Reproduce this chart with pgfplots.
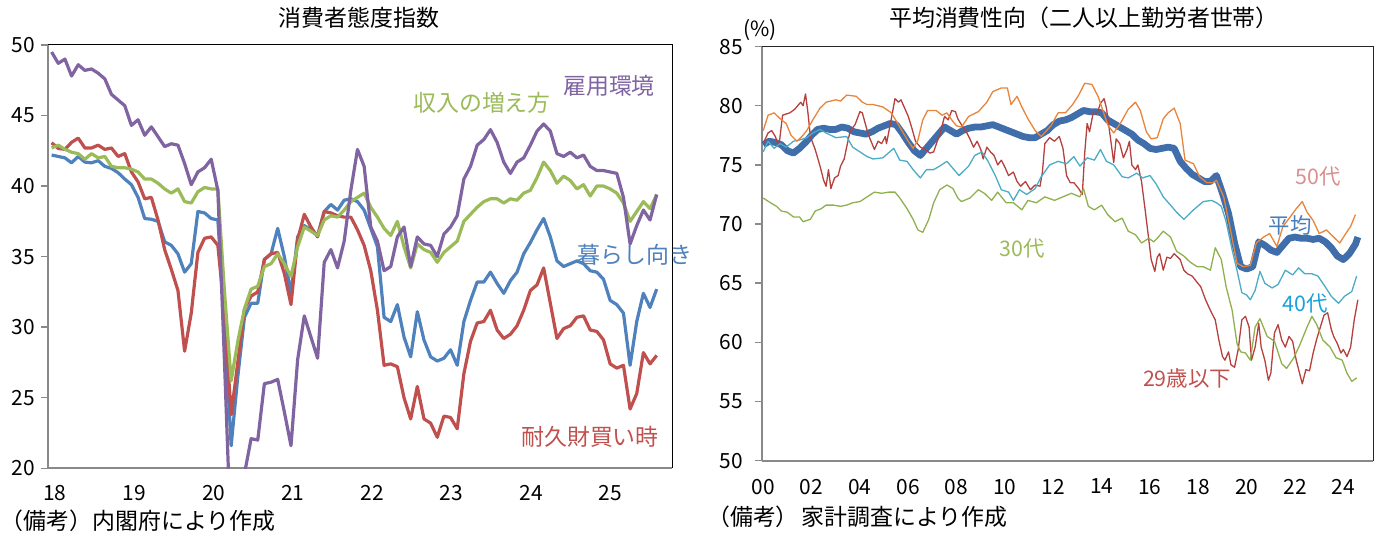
\documentclass[border=0pt]{standalone}
\usepackage{pgfplots}
\pgfplotsset{compat=1.18}
\usepackage{fontspec}
\setmainfont{Noto Sans CJK JP}
\definecolor{axgray}{HTML}{898989}
\definecolor{cBlue}{HTML}{4F81BD}
\definecolor{cRed}{HTML}{C0504D}
\definecolor{cGreen}{HTML}{9BBB59}
\definecolor{cPur}{HTML}{8064A2}
\definecolor{cAvg}{HTML}{3F6EAB}
\definecolor{cAvgL}{HTML}{4A7EBB}
\definecolor{cOr}{HTML}{E8843C}
\definecolor{cOrL}{HTML}{D98F8F}
\definecolor{cTeal}{HTML}{4BACC6}
\definecolor{cTealL}{HTML}{1AA0DC}
\definecolor{cG30}{HTML}{8FB04E}
\definecolor{cR29}{HTML}{B5403D}
\pgfplotstableread{
i blue red green purple
0 42.2 43.07 42.7 49.5
1 42.1 42.67 42.9 48.7
2 42.0 42.6 42.6 49.0
3 41.65 43.1 42.4 47.8
4 42.1 43.4 42.3 48.6
5 41.7 42.7 41.9 48.2
6 41.65 42.7 42.3 48.3
7 41.8 42.9 42.0 48.0
8 41.4 42.6 42.1 47.6
9 41.25 42.7 41.4 46.5
10 40.95 42.1 41.3 46.1
11 40.5 42.3 41.3 45.7
12 40.1 41.0 41.2 44.3
13 39.2 40.3 41.0 44.7
14 37.7 39.1 40.5 43.6
15 37.65 39.2 40.5 44.2
16 37.5 37.6 40.2 43.5
17 36.05 35.5 39.8 42.8
18 35.8 34.1 39.5 43.0
19 35.2 32.6 39.8 42.9
20 33.9 28.3 38.9 41.6
21 34.5 31.0 38.8 40.1
22 38.2 35.3 39.6 41.0
23 38.1 36.3 39.9 41.3
24 37.7 36.4 39.8 41.9
25 37.6 35.8 39.8 39.7
26 30.5 31.0 32.5 27.5
27 21.6 23.8 26.2 14.5
28 26.5 27.5 29.0 16.5
29 30.7 31.3 31.3 19.6
30 31.7 32.2 32.7 22.1
31 31.7 32.5 32.9 22.0
32 34.8 34.8 34.3 26.0
33 35.2 35.2 34.5 26.1
34 37.0 35.3 35.2 26.3
35 35.0 33.8 34.5 24.0
36 32.4 31.6 33.6 21.6
37 36.4 36.2 35.7 27.7
38 37.2 38.0 37.1 30.8
39 36.9 37.1 36.8 29.3
40 36.5 36.4 36.5 27.8
41 38.2 38.2 37.6 34.6
42 38.7 38.1 37.9 35.5
43 38.3 37.9 37.8 34.2
44 39.0 37.8 38.3 36.1
45 39.1 37.8 38.9 39.7
46 38.9 36.9 39.2 42.6
47 38.3 35.8 39.5 41.4
48 37.0 34.0 38.5 37.1
49 35.7 31.2 37.8 36.1
50 30.7 27.3 37.0 34.0
51 30.4 27.4 36.5 34.3
52 31.6 27.2 37.5 36.4
53 29.3 25.0 35.7 37.1
54 27.9 23.5 34.2 34.3
55 31.1 25.8 35.9 36.4
56 29.1 23.5 35.5 35.9
57 27.9 23.2 35.3 35.8
58 27.6 22.2 34.6 35.0
59 27.8 23.7 35.3 36.6
60 28.4 23.6 35.7 37.1
61 27.3 22.8 36.1 37.9
62 30.4 26.7 37.5 40.5
63 31.9 29.0 38.0 41.4
64 33.2 30.3 38.5 42.9
65 33.2 30.4 38.9 43.3
66 33.9 31.2 39.1 44.0
67 33.1 29.8 39.1 43.1
68 32.4 29.2 38.8 41.7
69 33.3 29.5 39.1 40.9
70 33.9 30.1 39.0 41.7
71 35.2 31.2 39.5 42.0
72 36.0 32.6 39.7 42.9
73 36.9 33.0 40.6 43.9
74 37.7 34.2 41.7 44.4
75 36.4 31.7 41.1 43.9
76 34.7 29.2 40.2 42.3
77 34.3 29.9 40.7 42.1
78 34.5 30.1 40.4 42.4
79 34.7 30.7 39.8 42.0
80 34.5 30.8 40.1 42.2
81 34.0 29.8 39.3 41.4
82 33.9 29.7 40.0 41.1
83 33.4 29.1 40.0 41.1
84 31.9 27.4 39.8 41.0
85 31.6 27.1 39.5 40.9
86 31.0 27.3 38.8 39.2
87 27.3 24.2 37.5 35.9
88 30.4 25.3 38.2 37.2
89 32.4 28.2 38.9 38.3
90 31.4 27.4 38.4 37.6
91 32.7 28.0 39.4 39.4
}\ccitable
\begin{document}
\begin{tikzpicture}[x=1bp,y=1bp]
\path[use as bounding box] (0,0) rectangle (1380,538);
\pgfplotsset{
  base/.style={scale only axis, anchor=south west,
    axis x line*=bottom, axis y line*=left,
    axis line style={draw=axgray, line width=2bp},
    major tick length=7bp, tick align=outside,
    ytick style={draw=axgray, line width=1.5bp},
    xtick style={draw=none},
    tick label style={font=\fontsize{21}{21}\selectfont, inner sep=0pt},
    /pgf/number format/assume math mode=true,
    clip mode=individual,
    every axis plot/.append style={line join=round, mark=none},
  }
}
% ---------------- left panel ----------------
\begin{axis}[base, at={(48.3bp,69.7bp)}, width=624bp, height=423.3bp,
  xmin=-0.5, xmax=93.35, ymin=20, ymax=50,
  ytick={20,25,30,35,40,45,50},
  xtick={0.5,12.4,24.4,36.3,48.2,60.1,72.1,84.0},
  xticklabels={18,19,20,21,22,23,24,25},
  yticklabel style={xshift=-6bp},
  xticklabel style={yshift=-10bp},
  ]
\addplot[cBlue, line width=3.2bp] table[x=i, y=blue] {\ccitable};
\addplot[cRed, line width=3.2bp] table[x=i, y=red] {\ccitable};
\addplot[cGreen, line width=3.2bp] table[x=i, y=green] {\ccitable};
\addplot[cPur, line width=3.2bp] table[x=i, y=purple] {\ccitable};
\draw[black, line width=1bp] (rel axis cs:0,1) -- (rel axis cs:1,1) -- (rel axis cs:1,0);
\end{axis}
% ---------------- right panel ----------------
\begin{axis}[base, at={(762bp,77.3bp)}, width=611.3bp, height=414.1bp,
  xmin=-0.05, xmax=25.24, ymin=50, ymax=85,
  ytick={50,55,60,65,70,75,80,85},
  xtick={0,2,4,6,8,10,12,14,16,18,20,22,24},
  xticklabels={00,02,04,06,08,10,12,14,16,18,20,22,24},
  yticklabel style={xshift=-12bp},
  xticklabel style={yshift=-11bp},
  ]
% average
\addplot[cAvg, line width=6.8bp] coordinates {
(0,76.7)(0.25,77.0)(0.5,76.9)(0.75,76.7)(1.0,76.2)(1.25,76.0)(1.5,76.4)(1.75,76.9)(2.0,77.5)(2.25,78.0)(2.5,78.1)(2.75,78.0)(3.0,78.0)(3.25,78.2)(3.5,78.1)(3.75,77.8)(4.0,77.7)(4.25,77.6)(4.5,77.8)(4.75,78.1)(5.0,78.3)(5.25,78.5)(5.5,78.4)(5.75,77.7)(6.0,76.9)(6.25,76.2)(6.5,75.8)(6.75,76.4)(7.0,77.0)(7.25,77.6)(7.5,78.2)(7.75,77.9)(8.0,77.6)(8.25,77.9)(8.5,78.1)(8.75,78.2)(9.0,78.2)(9.25,78.3)(9.5,78.4)(9.75,78.2)(10.0,78.0)(10.25,77.8)(10.5,77.6)(10.75,77.4)(11.0,77.3)(11.25,77.3)(11.5,77.6)(11.75,77.9)(12.0,78.4)(12.25,78.7)(12.5,78.8)(12.75,79.0)(13.0,79.3)(13.25,79.6)(13.5,79.5)(13.75,79.5)(14.0,79.4)(14.25,78.8)(14.5,78.5)(14.75,78.2)(15.0,77.9)(15.25,77.6)(15.5,77.1)(15.75,76.8)(16.0,76.4)(16.25,76.3)(16.5,76.4)(16.75,76.5)(17.0,76.4)(17.25,75.3)(17.5,74.7)(17.75,74.2)(18.0,73.9)(18.25,73.6)(18.5,73.6)(18.75,74.1)(19.0,72.6)(19.25,70.9)(19.5,68.4)(19.75,66.4)(20.0,66.2)(20.25,66.4)(20.5,68.5)(20.75,68.2)(21.0,67.8)(21.25,67.6)(21.5,68.2)(21.75,68.8)(22.0,68.9)(22.25,68.8)(22.5,68.8)(22.75,68.7)(23.0,68.8)(23.25,68.5)(23.5,68.0)(23.75,67.3)(24.0,67.0)(24.25,67.5)(24.5,68.3)(24.6,68.9)};
% 29 and under
\addplot[cR29, line width=1.3bp] coordinates {
(0,76.8)(0.2,77.7)(0.35,77.9)(0.5,77.4)(0.65,76.6)(0.8,79.2)(1.1,79.4)(1.3,79.7)(1.55,80.3)(1.65,80.0)(1.75,81.0)(1.85,79.4)(1.95,77.4)(2.15,76.3)(2.35,74.9)(2.5,73.7)(2.6,73.2)(2.7,74.6)(2.8,73.0)(2.95,73.9)(3.1,74.1)(3.2,74.9)(3.35,75.5)(3.45,76.5)(3.6,77.9)(3.8,78.4)(4.0,79.5)(4.1,79.4)(4.3,77.9)(4.4,77.3)(4.6,76.3)(4.75,77.0)(4.9,76.8)(5.05,77.4)(5.1,76.8)(5.3,78.9)(5.45,80.6)(5.6,80.3)(5.7,80.5)(5.85,79.8)(6.0,79.1)(6.15,78.1)(6.3,77.0)(6.5,76.5)(6.7,76.3)(6.9,76.0)(7.05,76.1)(7.2,77.0)(7.3,77.5)(7.5,79.1)(7.65,78.8)(7.8,79.6)(7.95,79.5)(8.05,78.9)(8.2,78.4)(8.4,77.8)(8.55,77.2)(8.7,76.5)(8.85,77.0)(9.0,76.3)(9.1,75.5)(9.25,76.5)(9.4,76.1)(9.55,75.8)(9.7,75.0)(9.85,75.4)(10.0,74.8)(10.15,74.1)(10.35,74.4)(10.5,73.6)(10.65,73.2)(10.85,73.6)(11.05,72.9)(11.25,73.3)(11.45,73.2)(11.55,74.4)(11.65,76.8)(11.85,77.3)(12.05,77.0)(12.25,77.4)(12.4,76.4)(12.55,74.1)(12.7,73.5)(12.85,73.5)(13.05,73.0)(13.2,72.5)(13.3,76.0)(13.4,78.5)(13.5,77.8)(13.65,79.4)(13.8,79.3)(13.95,80.2)(14.1,80.6)(14.2,79.8)(14.35,77.5)(14.5,75.2)(14.6,77.2)(14.75,76.8)(14.9,75.6)(15.05,76.3)(15.15,77.0)(15.25,75.0)(15.4,74.6)(15.5,75.0)(15.65,73.6)(15.8,71.2)(15.95,68.7)(16.05,67.0)(16.2,66.0)(16.3,67.2)(16.4,67.5)(16.55,66.1)(16.7,67.2)(16.85,67.1)(17.0,67.5)(17.25,67.0)(17.4,66.1)(17.55,65.8)(17.75,65.6)(17.9,65.2)(18.1,64.7)(18.3,63.6)(18.5,62.7)(18.7,61.9)(18.85,60.2)(19.0,58.8)(19.1,58.5)(19.25,59.2)(19.35,58.1)(19.5,57.9)(19.65,59.4)(19.8,61.9)(19.95,62.2)(20.1,61.3)(20.2,58.5)(20.35,59.6)(20.5,61.6)(20.6,59.6)(20.75,58.5)(20.9,56.8)(21.0,57.4)(21.15,60.8)(21.3,61.5)(21.45,60.2)(21.6,59.6)(21.75,60.5)(21.9,60.1)(22.05,58.5)(22.15,57.7)(22.3,56.5)(22.45,57.7)(22.6,57.6)(22.75,59.1)(22.9,60.3)(23.05,61.3)(23.2,62.3)(23.35,62.5)(23.5,61.1)(23.6,60.5)(23.75,59.9)(23.9,59.1)(24.0,59.4)(24.15,58.8)(24.3,59.6)(24.45,61.9)(24.6,63.6)};
% 30s
\addplot[cG30, line width=1.3bp] coordinates {
(0,72.2)(0.3,71.8)(0.55,71.5)(0.75,71.1)(1.0,71.0)(1.25,70.6)(1.5,70.6)(1.65,70.2)(1.95,70.4)(2.15,71.1)(2.4,71.3)(2.6,71.6)(2.9,71.6)(3.2,71.5)(3.45,71.6)(3.7,71.8)(4.0,71.9)(4.3,72.3)(4.6,72.7)(4.9,72.6)(5.2,72.7)(5.45,72.7)(5.65,72.2)(5.95,71.3)(6.2,70.4)(6.4,69.5)(6.6,69.3)(6.85,70.4)(7.05,71.8)(7.3,72.9)(7.6,73.3)(7.85,73.0)(8.05,72.2)(8.2,71.9)(8.55,72.2)(8.9,72.9)(9.15,72.6)(9.45,72.0)(9.7,72.7)(10.05,71.8)(10.35,71.8)(10.7,71.2)(10.95,72.0)(11.3,71.8)(11.65,72.3)(12.05,72.0)(12.4,72.3)(12.75,72.6)(13.1,72.3)(13.25,73.0)(13.45,71.5)(13.7,71.2)(14.0,71.6)(14.25,70.8)(14.55,70.2)(14.85,70.5)(15.1,69.4)(15.4,69.1)(15.65,68.4)(15.95,68.8)(16.15,68.5)(16.3,68.8)(16.55,69.4)(16.85,68.9)(17.1,67.7)(17.4,67.3)(17.65,66.8)(17.95,66.4)(18.2,66.4)(18.5,66.1)(18.7,68.0)(18.95,67.0)(19.15,64.7)(19.4,62.7)(19.6,59.9)(19.75,59.2)(19.95,59.1)(20.15,58.5)(20.35,61.3)(20.55,62.0)(20.85,60.5)(21.15,60.1)(21.45,58.2)(21.65,57.8)(21.95,58.7)(22.2,59.8)(22.5,61.3)(22.7,62.2)(22.9,61.5)(23.15,60.2)(23.45,59.6)(23.7,58.7)(23.95,58.5)(24.15,57.4)(24.35,56.7)(24.55,57.0)};
% 40s
\addplot[cTeal, line width=1.3bp] coordinates {
(0,76.1)(0.2,77.0)(0.45,76.4)(0.7,76.8)(0.95,76.5)(1.25,77.0)(1.5,77.1)(1.8,77.3)(2.05,77.7)(2.35,78.0)(2.6,77.7)(3.0,77.3)(3.45,77.4)(3.7,76.5)(4.0,76.1)(4.3,75.7)(4.55,75.5)(4.95,75.6)(5.4,76.4)(5.65,75.4)(5.95,75.3)(6.2,74.6)(6.5,73.9)(6.75,74.6)(7.05,74.6)(7.3,74.9)(7.6,75.3)(7.85,74.7)(8.1,74.1)(8.5,74.9)(8.75,75.8)(9.05,76.1)(9.3,75.3)(9.6,74.1)(9.85,72.9)(10.15,72.7)(10.35,72.0)(10.6,72.9)(10.9,72.5)(11.25,73.0)(11.5,74.0)(11.85,75.0)(12.2,75.3)(12.55,75.1)(12.85,75.7)(13.1,74.9)(13.4,75.6)(13.7,75.4)(13.95,76.3)(14.2,75.3)(14.5,75.0)(14.85,74.0)(15.1,73.9)(15.45,74.3)(15.7,73.9)(16.0,74.1)(16.25,73.4)(16.55,72.3)(16.85,71.6)(17.1,71.0)(17.4,70.4)(17.8,71.2)(18.2,71.9)(18.55,72.0)(18.75,71.8)(18.95,71.5)(19.15,70.2)(19.4,67.8)(19.6,66.1)(19.8,64.2)(20.0,64.0)(20.15,63.6)(20.35,64.4)(20.55,66.0)(20.75,65.0)(21.05,64.6)(21.3,64.9)(21.6,66.1)(21.9,65.7)(22.15,66.3)(22.4,65.8)(22.7,65.8)(22.95,65.6)(23.25,64.7)(23.5,63.9)(23.8,63.3)(24.05,63.9)(24.35,64.3)(24.55,65.6)};
% 50s
\addplot[cOr, line width=1.3bp] coordinates {
(0,77.9)(0.2,79.2)(0.45,79.4)(0.7,78.9)(0.95,78.5)(1.15,77.5)(1.4,77.0)(1.6,77.4)(1.8,77.9)(2.05,78.8)(2.35,79.8)(2.6,80.3)(3.0,80.5)(3.2,80.4)(3.45,80.9)(3.85,80.8)(4.1,80.3)(4.3,80.1)(4.55,80.1)(4.95,79.9)(5.3,79.4)(5.65,78.2)(6.0,77.0)(6.2,76.4)(6.4,77.1)(6.6,78.8)(6.8,79.6)(7.15,79.6)(7.4,79.2)(7.6,79.4)(7.8,78.8)(8.0,78.3)(8.2,78.2)(8.5,79.1)(8.9,79.5)(9.25,80.3)(9.5,81.2)(9.85,81.5)(10.1,81.5)(10.25,80.1)(10.5,80.8)(10.7,79.9)(10.95,78.9)(11.25,77.9)(11.5,77.4)(11.9,78.3)(12.2,79.4)(12.5,79.4)(12.8,80.1)(13.05,80.9)(13.3,81.9)(13.6,81.8)(13.85,80.8)(14.05,79.6)(14.25,78.4)(14.5,77.7)(14.8,78.6)(15.1,79.7)(15.4,80.3)(15.6,79.6)(15.85,77.8)(16.05,77.2)(16.3,77.3)(16.55,78.9)(16.75,79.4)(17.0,79.8)(17.25,78.5)(17.45,75.4)(17.8,75.1)(18.05,74.0)(18.35,73.5)(18.6,73.5)(18.75,73.7)(19.05,72.3)(19.3,69.8)(19.6,66.7)(19.85,66.4)(20.15,66.5)(20.4,68.4)(20.7,68.9)(20.95,69.2)(21.25,68.1)(21.5,69.8)(21.8,70.6)(22.05,71.3)(22.3,71.9)(22.5,71.0)(22.75,70.3)(23.0,69.2)(23.3,69.5)(23.6,68.9)(23.85,68.4)(24.1,69.2)(24.3,69.8)(24.5,70.8)};
\draw[black!85, line width=1bp] (rel axis cs:0,1) -- (rel axis cs:1,1) -- (rel axis cs:1,0);
\end{axis}
% ---------------- texts ----------------
\begin{scope}[every node/.style={font=\fontsize{23}{23}\selectfont, inner sep=0pt}]
\node at (359,520) {消費者態度指数};
\node at (1084,520) {平均消費性向（二人以上勤労者世帯）};
\node[font=\fontsize{21}{21}\selectfont] at (760,508) {(\%)};
\node[anchor=west] at (0.5,17) {（備考）内閣府により作成};
\node[anchor=west] at (707,21) {（備考）\hspace{3bp}家計調査により作成};
\node[text=cPur] at (609,452) {雇用環境};
\node[text=cGreen] at (482,435) {収入の増え方};
\node[text=cBlue] at (635,283) {暮らし向き};
\node[text=cRed] at (590,101) {耐久財買い時};
\begin{scope}[every node/.style={font=\fontsize{21.5}{21.5}\selectfont, inner sep=0pt}]
\node[text=cOrL] at (1318,362) {50代};
\node[text=cAvgL] at (1290,313) {平均};
\node[text=cTealL] at (1305,235) {40代};
\node[text=cGreen] at (1022,290) {30代};
\node[text=cRed] at (1187,160) {29歳以下};
\end{scope}
\end{scope}
\end{tikzpicture}
\end{document}
